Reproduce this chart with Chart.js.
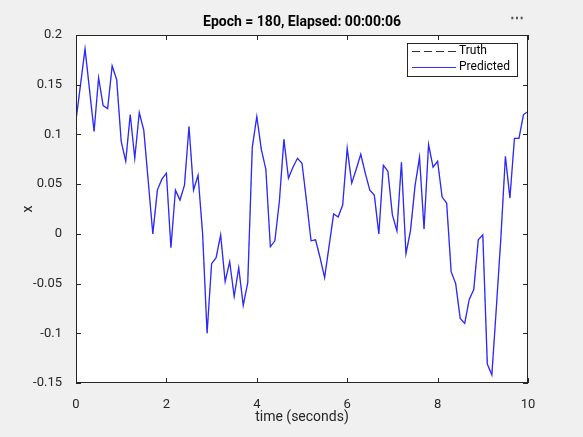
<!DOCTYPE html>
<html>
<head>
<meta charset="utf-8">
<script src="https://cdn.jsdelivr.net/npm/chart.js@4"></script>
<style>
  html, body { margin: 0; padding: 0; background: #f0f0f0; }
  canvas { display: block; }
</style>
</head>
<body>
<canvas id="c" width="583" height="437"></canvas>
<script>
const times = [0, 0.2, 0.4, 0.5, 0.6, 0.7, 0.8, 0.9, 1.0, 1.1, 1.2, 1.3, 1.4, 1.5, 1.7, 1.8, 1.9, 2.0,
  2.1, 2.2, 2.3, 2.4, 2.5, 2.6, 2.7, 2.8, 2.9, 3.0, 3.1, 3.2, 3.3, 3.4, 3.5, 3.6, 3.7, 3.8, 3.9, 4.0,
  4.1, 4.2, 4.3, 4.4, 4.5, 4.6, 4.7, 4.8, 4.9, 5.0, 5.1, 5.2, 5.3, 5.4, 5.5, 5.6, 5.7, 5.8, 5.9, 6.0,
  6.1, 6.2, 6.3, 6.4, 6.5, 6.6, 6.7, 6.8, 6.9, 7.0, 7.1, 7.2, 7.3, 7.4, 7.5, 7.6, 7.7, 7.8, 7.9, 8.0,
  8.1, 8.2, 8.3, 8.4, 8.5, 8.6, 8.7, 8.8, 8.9, 9.0, 9.1, 9.2, 9.3, 9.4, 9.5, 9.6, 9.7, 9.8, 9.9, 10];
const predicted = [0.114, 0.186, 0.103, 0.157, 0.129, 0.126, 0.169, 0.155, 0.093, 0.073, 0.120, 0.076,
  0.122, 0.104, 0.000, 0.044, 0.055, 0.061, -0.014, 0.044, 0.034, 0.049, 0.108, 0.044, 0.059, 0.001,
  -0.100, -0.030, -0.024, -0.001, -0.048, -0.028, -0.063, -0.034, -0.072, -0.049, 0.087, 0.118,
  0.085, 0.065, -0.013, -0.007, 0.033, 0.095, 0.056, 0.067, 0.076, 0.071, 0.033, -0.007, -0.006,
  -0.024, -0.044, -0.012, 0.020, 0.017, 0.029, 0.086, 0.051, 0.065, 0.080, 0.061, 0.044, 0.039,
  0.000, 0.069, 0.063, 0.019, 0.003, 0.072, -0.020, 0.003, 0.048, 0.077, 0.005, 0.090, 0.067, 0.073,
  0.037, 0.031, -0.038, -0.050, -0.085, -0.090, -0.066, -0.056, -0.006, -0.001, -0.131, -0.142,
  -0.074, -0.004, 0.078, 0.036, 0.096, 0.096, 0.120, 0.123];
const xTicks = [0, 2, 4, 6, 8, 10];
const yTicks = [-0.15, -0.1, -0.05, 0, 0.05, 0.1, 0.15, 0.2];

const font = 'Roboto, "Liberation Sans", sans-serif';

const frame = {
  id: 'frame',
  beforeDraw(chart) {
    const { ctx, chartArea: a } = chart;
    ctx.save();
    ctx.fillStyle = '#ffffff';
    ctx.fillRect(a.left, a.top, a.right - a.left, a.bottom - a.top);
    ctx.restore();
  },
  afterDraw(chart) {
    const { ctx, chartArea: a, scales } = chart;
    ctx.save();
    ctx.strokeStyle = '#262626';
    ctx.lineWidth = 1;
    ctx.strokeRect(a.left + 0.5, a.top + 0.5, a.right - a.left - 1, a.bottom - a.top - 1);
    ctx.beginPath();
    xTicks.forEach(t => {
      const x = Math.round(scales.x.getPixelForValue(t)) + 0.5;
      ctx.moveTo(x, a.bottom); ctx.lineTo(x, a.bottom - 5);
      ctx.moveTo(x, a.top); ctx.lineTo(x, a.top + 5);
    });
    yTicks.forEach(t => {
      const y = Math.round(scales.y.getPixelForValue(t)) + 0.5;
      ctx.moveTo(a.left, y); ctx.lineTo(a.left + 5, y);
      ctx.moveTo(a.right, y); ctx.lineTo(a.right - 5, y);
    });
    ctx.stroke();

    // title, axis labels
    ctx.fillStyle = '#000';
    ctx.textAlign = 'center';
    ctx.textBaseline = 'middle';
    ctx.font = 'bold 14px ' + font;
    ctx.fillText('Epoch = 180, Elapsed: 00:00:06', (a.left + a.right) / 2, 22);
    ctx.font = '14px ' + font;
    ctx.fillStyle = '#262626';
    ctx.fillText('time (seconds)', (a.left + a.right) / 2, 417);
    ctx.save();
    ctx.translate(28, (a.top + a.bottom) / 2);
    ctx.rotate(-Math.PI / 2);
    ctx.fillText('x', 0, 0);
    ctx.restore();
    ctx.font = 'bold 14px ' + font;
    ctx.fillStyle = '#555';
    ctx.fillText('\u22EF', 517, 19);

    // legend
    const lx = 407, ly = 43, lw = 110, lh = 33;
    ctx.fillStyle = '#fff';
    ctx.fillRect(lx, ly, lw, lh);
    ctx.strokeStyle = '#262626';
    ctx.strokeRect(lx + 0.5, ly + 0.5, lw, lh);
    ctx.lineWidth = 1;
    ctx.strokeStyle = '#333';
    ctx.setLineDash([8, 4]);
    ctx.beginPath(); ctx.moveTo(412, 51.5); ctx.lineTo(456, 51.5); ctx.stroke();
    ctx.setLineDash([]);
    ctx.strokeStyle = '#3030ff';
    ctx.beginPath(); ctx.moveTo(412, 67.5); ctx.lineTo(456, 67.5); ctx.stroke();
    ctx.fillStyle = '#000';
    ctx.font = '12px ' + font;
    ctx.textAlign = 'left';
    ctx.fillText('Truth', 459, 51);
    ctx.fillText('Predicted', 459, 67);
    ctx.restore();
  }
};

const pts = times.map((t, i) => ({ x: t, y: predicted[i] }));

new Chart(document.getElementById('c'), {
  type: 'line',
  data: {
    datasets: [
      { label: 'Truth', data: pts, borderColor: 'rgba(220,80,80,0.35)', borderDash: [6, 4],
        borderWidth: 1, pointRadius: 0, tension: 0, order: 2 },
      { label: 'Predicted', data: pts, borderColor: '#2828ff', borderWidth: 1.3,
        pointRadius: 0, tension: 0, order: 1 }
    ]
  },
  options: {
    responsive: false,
    animation: false,
    layout: { padding: { left: 0, right: 55, top: 35, bottom: 0 } },
    plugins: { legend: { display: false }, title: { display: false }, tooltip: { enabled: false } },
    scales: {
      x: {
        type: 'linear', min: 0, max: 10,
        afterFit(s) { s.height = 54; },
        afterBuildTicks(s) { s.ticks = xTicks.map(v => ({ value: v })); },
        grid: { display: false }, border: { display: false },
        ticks: { color: '#262626', font: { family: font, size: 13 }, padding: 6, maxRotation: 0 }
      },
      y: {
        min: -0.15, max: 0.2,
        afterFit(s) { s.width = 76; },
        afterBuildTicks(s) { s.ticks = yTicks.map(v => ({ value: v })); },
        grid: { display: false }, border: { display: false },
        ticks: { color: '#262626', font: { family: font, size: 13 }, padding: 6,
          callback: v => String(Number(v.toFixed(2))) }
      }
    }
  },
  plugins: [frame]
});
</script>
</body>
</html>
